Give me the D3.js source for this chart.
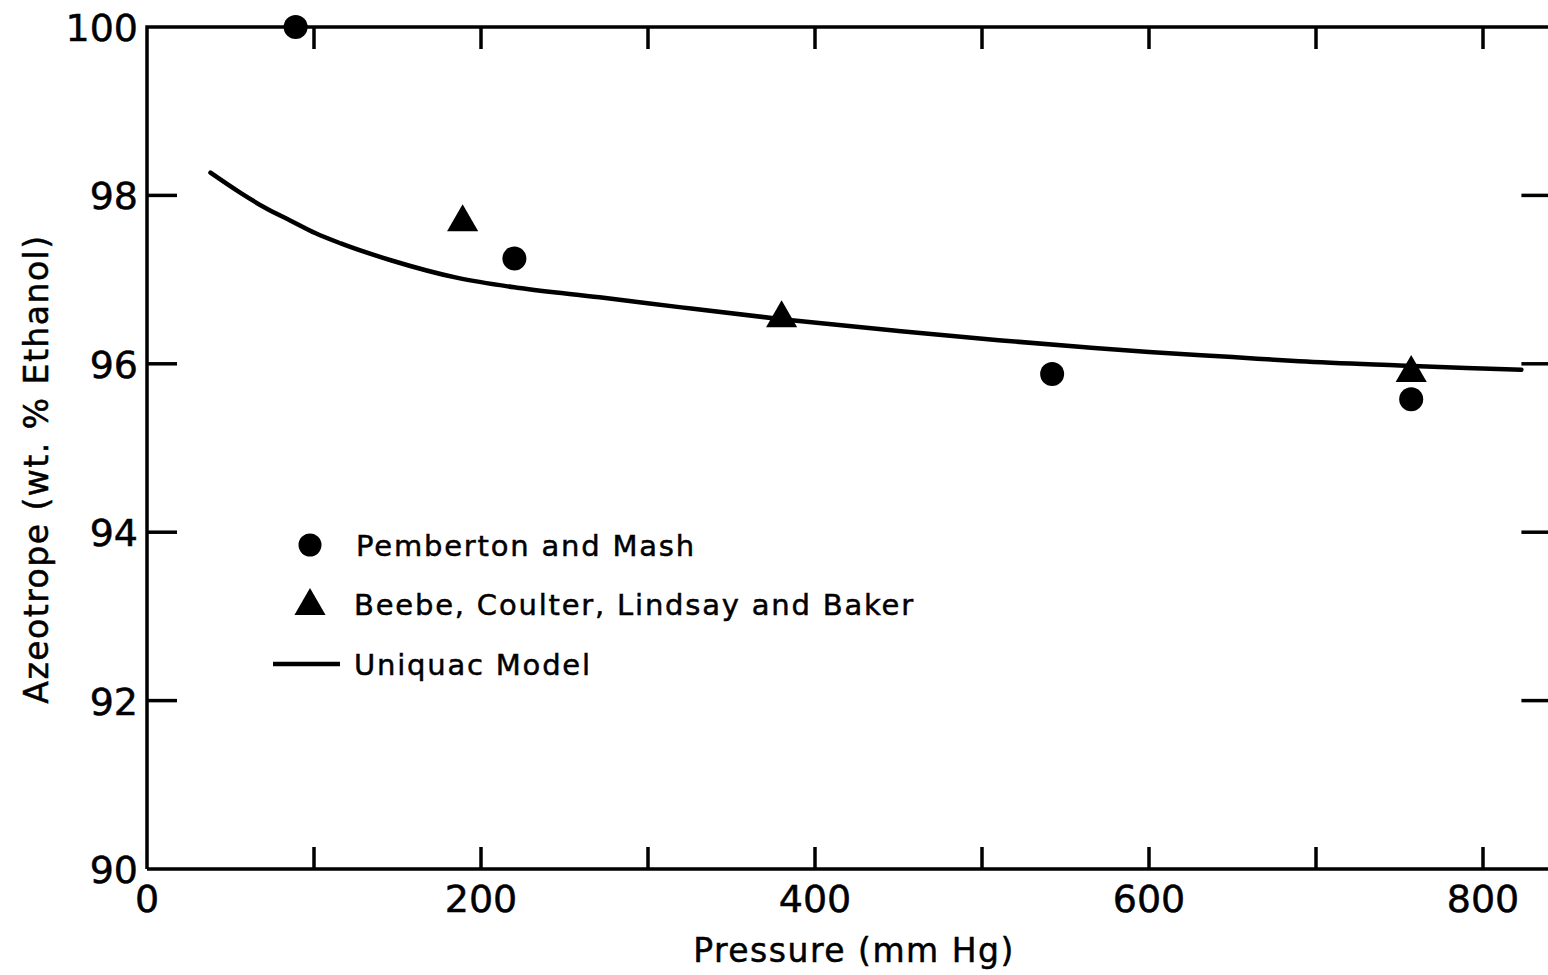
<!DOCTYPE html>
<html>
<head>
<meta charset="utf-8">
<script src="https://cdn.jsdelivr.net/npm/d3@7"></script>
<style>
  body { margin: 0; background: #fff; }
  svg text { font-family: "DejaVu Sans", sans-serif; fill: #000; stroke: #000; stroke-width: 0.5; }
</style>
</head>
<body>
<div id="chart"></div>
<script>
const width = 1548, height = 975;

// data
const pemberton = [[89, 100.0], [220, 97.25], [542, 95.88], [757, 95.58]];
const beebe = [[189, 97.68], [380, 96.54], [757, 95.89]];
const uniquacP = [38, 56, 71, 86, 101, 116, 146, 186, 223, 271, 320, 380, 450, 510, 560, 600, 650, 690, 750, 790, 823];
const uniquacY = [98.27, 98.03, 97.85, 97.70, 97.55, 97.43, 97.23, 97.02, 96.90, 96.79, 96.67, 96.53, 96.39, 96.28, 96.2, 96.14, 96.08, 96.03, 95.98, 95.95, 95.93];
const xTicks = [100, 200, 300, 400, 500, 600, 700, 800];
const xLabels = [0, 200, 400, 600, 800];
const yTicks = [92, 94, 96, 98];
const yLabels = [90, 92, 94, 96, 98, 100];

const x = d3.scaleLinear().domain([0, 800]).range([147, 1483]);
const y = d3.scaleLinear().domain([90, 100]).range([869, 27]);

const svg = d3.select("#chart").append("svg")
    .attr("width", width).attr("height", height);

// frame: left, top and bottom lines, open on the right
svg.append("path")
    .attr("d", `M${x(0)},${y(90)}V${y(100)}H${width}M${x(0)},${y(90)}H${width}`)
    .attr("fill", "none").attr("stroke", "#000").attr("stroke-width", 3.5);

const ticks = svg.append("g").attr("stroke", "#000").attr("stroke-width", 3.5);
xTicks.forEach(t => {
    ticks.append("line").attr("x1", x(t)).attr("x2", x(t)).attr("y1", y(90)).attr("y2", y(90) - 22);
    ticks.append("line").attr("x1", x(t)).attr("x2", x(t)).attr("y1", y(100)).attr("y2", y(100) + 22);
});
yTicks.forEach(t => {
    ticks.append("line").attr("x1", x(0)).attr("x2", x(0) + 30).attr("y1", y(t)).attr("y2", y(t));
    ticks.append("line").attr("x1", x(823)).attr("x2", width).attr("y1", y(t)).attr("y2", y(t));
});

svg.append("g").selectAll("text").data(xLabels).join("text")
    .attr("x", d => x(d)).attr("y", 912)
    .attr("text-anchor", "middle").attr("font-size", 38)
    .text(d => d);

svg.append("g").selectAll("text").data(yLabels).join("text")
    .attr("x", 138).attr("y", d => y(d) + 14)
    .attr("text-anchor", "end").attr("font-size", 38)
    .text(d => d);

svg.append("text")
    .attr("x", 854).attr("y", 962).attr("text-anchor", "middle")
    .attr("font-size", 33).attr("letter-spacing", 1.5)
    .text("Pressure  (mm Hg)");

svg.append("text")
    .attr("transform", "translate(48,469) rotate(-90)")
    .attr("text-anchor", "middle")
    .attr("font-size", 33).attr("letter-spacing", 1.5)
    .text("Azeotrope (wt. % Ethanol)");

// model curve
const line = d3.line().x(d => x(d[0])).y(d => y(d[1])).curve(d3.curveMonotoneX);
svg.append("path")
    .datum(uniquacP.map((p, i) => [p, uniquacY[i]]))
    .attr("d", line)
    .attr("fill", "none").attr("stroke", "#000").attr("stroke-width", 4.5)
    .attr("stroke-linecap", "round");

const tri = d3.symbol().type(d3.symbolTriangle).size(420);

svg.append("g").selectAll("path").data(beebe).join("path")
    .attr("d", tri)
    .attr("transform", d => `translate(${x(d[0])},${y(d[1])})`)
    .attr("fill", "#000");

svg.append("g").selectAll("circle").data(pemberton).join("circle")
    .attr("cx", d => x(d[0])).attr("cy", d => y(d[1])).attr("r", 12)
    .attr("fill", "#000");

// legend
const legend = svg.append("g").attr("font-size", 29).attr("letter-spacing", 1.8);
legend.append("circle").attr("cx", 310).attr("cy", 545).attr("r", 11.5);
legend.append("text").attr("x", 356).attr("y", 556).text("Pemberton and Mash");
legend.append("path").attr("d", tri).attr("transform", "translate(310,606)");
legend.append("text").attr("x", 354).attr("y", 615).text("Beebe, Coulter, Lindsay and Baker");
legend.append("line").attr("x1", 273).attr("x2", 340).attr("y1", 664).attr("y2", 664)
    .attr("stroke", "#000").attr("stroke-width", 4.5);
legend.append("text").attr("x", 354).attr("y", 675).text("Uniquac Model");
</script>
</body>
</html>
